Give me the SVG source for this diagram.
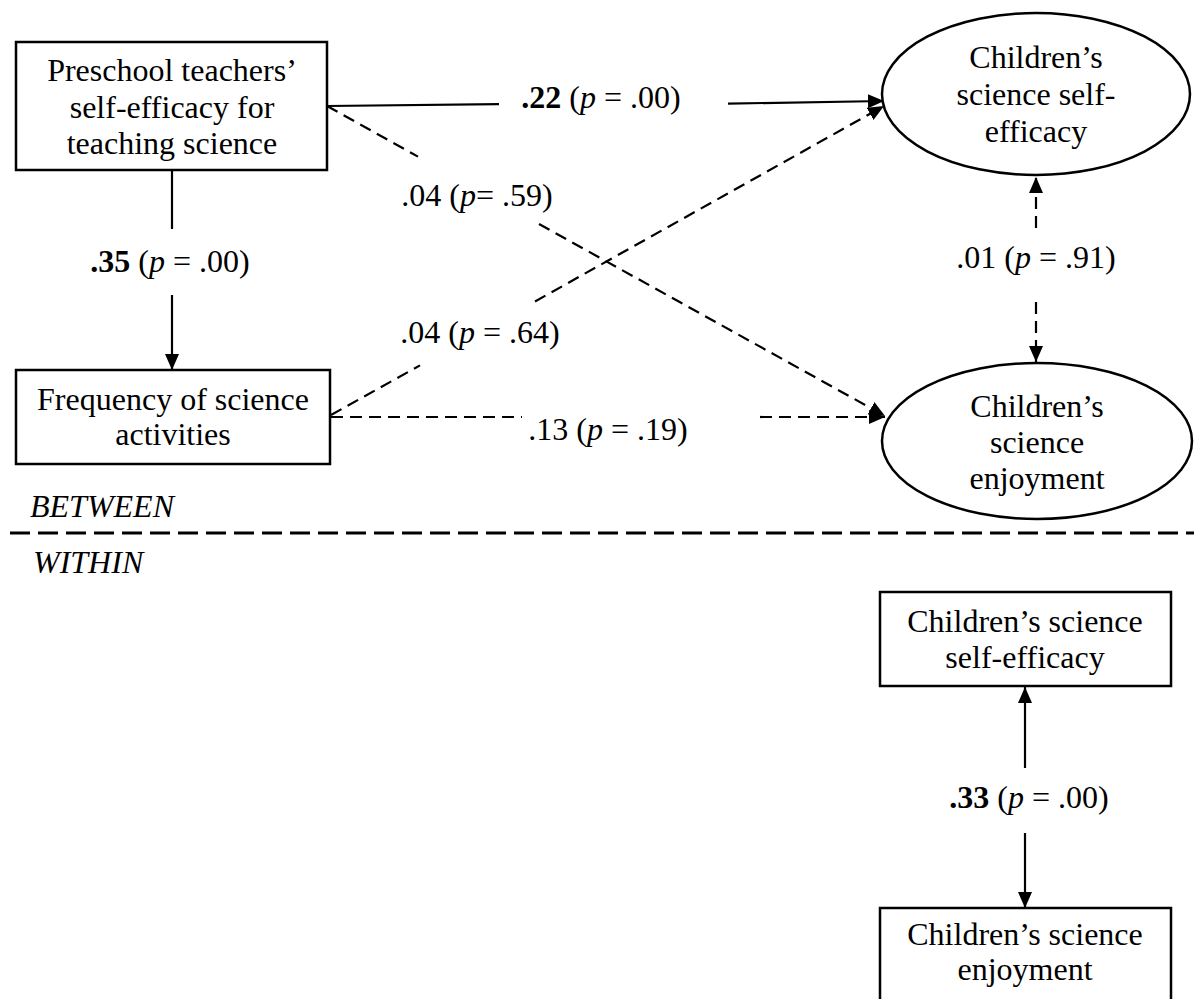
<svg xmlns="http://www.w3.org/2000/svg" width="1194" height="999" viewBox="0 0 1194 999">
  <style>
    text { font-family: "Liberation Serif", "DejaVu Serif", serif; font-size: 32px; fill: #000; }
    .box { fill: #fff; stroke: #000; stroke-width: 2.5; }
    .lbl { text-anchor: middle; }
    .sec { font-style: italic; }
    .solid { stroke: #000; stroke-width: 2.2; fill: none; }
    .dash { stroke: #000; stroke-width: 2.2; fill: none; stroke-dasharray: 12 7; }
    .divider { stroke: #000; stroke-width: 3; stroke-dasharray: 20 8; }
    .b { font-weight: bold; }
    .i { font-style: italic; }
  </style>
  <defs>
    <marker id="ah" viewBox="0 0 16 14" refX="16" refY="7" markerWidth="16" markerHeight="14" markerUnits="userSpaceOnUse" orient="auto">
      <path d="M0,0 L16,7 L0,14 z" fill="#000"/>
    </marker>
  </defs>
  <rect width="1194" height="999" fill="#fff"/>

  <!-- connectors -->
  <g id="connectors">
    <!-- teacher self-efficacy -> frequency -->
    <line class="solid" x1="172" y1="170" x2="172" y2="229"/>
    <line class="solid" x1="172" y1="295" x2="172" y2="370" marker-end="url(#ah)"/>
    <!-- teacher self-efficacy -> children's self-efficacy -->
    <line class="solid" x1="327" y1="106" x2="499" y2="104.1"/>
    <line class="solid" x1="728" y1="103.6" x2="884" y2="101" marker-end="url(#ah)"/>
    <!-- teacher self-efficacy -> children's enjoyment -->
    <line class="dash" x1="327" y1="106" x2="418" y2="156.6"/>
    <line class="dash" x1="539" y1="224" x2="885" y2="416" marker-end="url(#ah)"/>
    <!-- frequency -> children's self-efficacy -->
    <line class="dash" x1="331" y1="415" x2="420" y2="365.4"/>
    <line class="dash" x1="535" y1="301.5" x2="884" y2="106" marker-end="url(#ah)"/>
    <!-- frequency -> children's enjoyment -->
    <line class="dash" x1="331" y1="417" x2="522" y2="417"/>
    <line class="dash" x1="760" y1="417" x2="885" y2="417" marker-end="url(#ah)"/>
    <!-- between-level covariance -->
    <line class="dash" x1="1036" y1="228" x2="1036" y2="177" marker-end="url(#ah)"/>
    <line class="dash" x1="1036" y1="302" x2="1036" y2="362" marker-end="url(#ah)"/>
    <!-- within-level covariance -->
    <line class="solid" x1="1025" y1="768" x2="1025" y2="687" marker-end="url(#ah)"/>
    <line class="solid" x1="1025" y1="833" x2="1025" y2="908" marker-end="url(#ah)"/>

    <!-- path labels -->
    <text class="lbl" x="601" y="108"><tspan class="b">.22</tspan> (<tspan class="i">p</tspan> = .00)</text>
    <text class="lbl" x="477" y="206">.04 (<tspan class="i">p</tspan>= .59)</text>
    <text class="lbl" x="480" y="343">.04 (<tspan class="i">p</tspan> = .64)</text>
    <text class="lbl" x="608" y="440">.13 (<tspan class="i">p</tspan> = .19)</text>
    <text class="lbl" x="170" y="272"><tspan class="b">.35</tspan> (<tspan class="i">p</tspan> = .00)</text>
    <text class="lbl" x="1036" y="268">.01 (<tspan class="i">p</tspan> = .91)</text>
    <text class="lbl" x="1029" y="808"><tspan class="b">.33</tspan> (<tspan class="i">p</tspan> = .00)</text>
  </g>

  <!-- level divider -->
  <g id="levels">
    <line class="divider" x1="10" y1="533" x2="1194" y2="533"/>
    <text class="sec" x="30" y="517">BETWEEN</text>
    <text class="sec" x="33" y="573">WITHIN</text>
  </g>

  <g id="teacher-efficacy">
    <rect class="box" x="16" y="42" width="311" height="128"/>
    <text class="lbl" x="172" y="81">Preschool teachers’</text>
    <text class="lbl" x="172" y="118">self-efficacy for</text>
    <text class="lbl" x="172" y="154">teaching science</text>
  </g>

  <g id="activity-frequency">
    <rect class="box" x="16" y="370" width="314" height="94"/>
    <text class="lbl" x="173" y="410">Frequency of science</text>
    <text class="lbl" x="173" y="445">activities</text>
  </g>

  <g id="between-child-efficacy">
    <ellipse class="box" cx="1036" cy="94" rx="154" ry="81"/>
    <text class="lbl" x="1036" y="68">Children’s</text>
    <text class="lbl" x="1036" y="105">science self-</text>
    <text class="lbl" x="1036" y="142">efficacy</text>
  </g>

  <g id="between-child-enjoyment">
    <ellipse class="box" cx="1037" cy="441" rx="155" ry="78"/>
    <text class="lbl" x="1037" y="417">Children’s</text>
    <text class="lbl" x="1037" y="453">science</text>
    <text class="lbl" x="1037" y="489">enjoyment</text>
  </g>

  <g id="within-child-efficacy">
    <rect class="box" x="880" y="592" width="291" height="94"/>
    <text class="lbl" x="1025" y="632">Children’s science</text>
    <text class="lbl" x="1025" y="668">self-efficacy</text>
  </g>

  <g id="within-child-enjoyment">
    <rect class="box" x="880" y="908" width="291" height="100"/>
    <text class="lbl" x="1025" y="945">Children’s science</text>
    <text class="lbl" x="1025" y="980">enjoyment</text>
  </g>
</svg>
